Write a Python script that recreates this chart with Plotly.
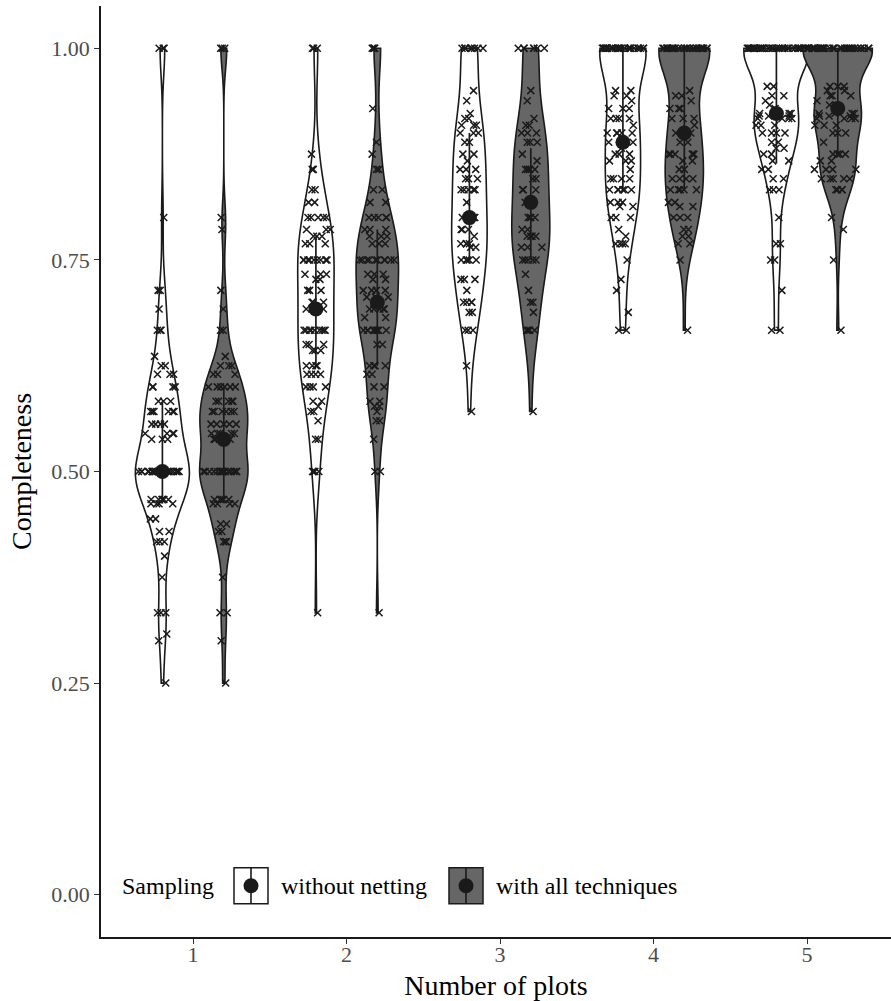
import numpy as np
import plotly.graph_objects as go

# ---- data: completeness values per number of plots, stored as (value, count) ----
plots = [1, 2, 3, 4, 5]
tick_labels = ["1", "2", "3", "4", "5"]
y_ticks = [0.0, 0.25, 0.5, 0.75, 1.0]
y_tick_labels = ["0.00", "0.25", "0.50", "0.75", "1.00"]

# without netting
wn1_vals = [1.0, 0.8, 0.714, 0.692, 0.667, 0.636, 0.625, 0.615, 0.6, 0.583, 0.571, 0.556, 0.545, 0.538,
            0.5, 0.467, 0.462, 0.444, 0.429, 0.417, 0.4, 0.375, 0.333, 0.308, 0.3, 0.25]
wn1_cnts = [3, 1, 2, 1, 3, 1, 2, 3, 4, 3, 6, 4, 4, 3, 25, 6, 4, 2, 2, 3, 1, 1, 3, 1, 1, 1]
wn2_vals = [1.0, 0.875, 0.857, 0.833, 0.818, 0.8, 0.786, 0.778, 0.769, 0.75, 0.733, 0.727, 0.714, 0.7,
            0.692, 0.667, 0.65, 0.643, 0.625, 0.615, 0.6, 0.583, 0.577, 0.571, 0.56, 0.538, 0.5, 0.333]
wn2_cnts = [3, 1, 2, 2, 2, 5, 3, 3, 3, 9, 3, 2, 3, 3, 4, 9, 3, 3, 4, 4, 4, 2, 1, 2, 1, 2, 4, 1]
wn3_vals = [1.0, 0.95, 0.938, 0.923, 0.917, 0.909, 0.9, 0.889, 0.875, 0.867, 0.857, 0.846, 0.833, 0.818,
            0.8, 0.786, 0.778, 0.769, 0.765, 0.75, 0.727, 0.714, 0.7, 0.688, 0.667, 0.625, 0.571]
wn3_cnts = [9, 1, 1, 1, 2, 3, 3, 2, 2, 1, 3, 3, 5, 1, 4, 3, 1, 4, 2, 5, 3, 1, 4, 2, 3, 1, 1]
wn4_vals = [1.0, 0.95, 0.944, 0.938, 0.929, 0.917, 0.909, 0.9, 0.889, 0.882, 0.875, 0.867, 0.857, 0.846,
            0.833, 0.818, 0.813, 0.8, 0.786, 0.778, 0.769, 0.75, 0.727, 0.714, 0.688, 0.667]
wn4_cnts = [30, 2, 2, 1, 3, 4, 1, 5, 2, 1, 3, 3, 1, 4, 6, 3, 2, 3, 1, 1, 4, 1, 1, 1, 1, 2]
wn5_vals = [1.0, 0.955, 0.944, 0.938, 0.933, 0.929, 0.923, 0.92, 0.917, 0.909, 0.9, 0.889, 0.882, 0.875,
            0.867, 0.857, 0.846, 0.833, 0.8, 0.769, 0.75, 0.714, 0.667]
wn5_cnts = [38, 2, 2, 1, 1, 1, 4, 3, 4, 3, 4, 2, 2, 2, 2, 2, 2, 3, 1, 2, 2, 1, 2]

# with all techniques
wa1_vals = [1.0, 0.8, 0.786, 0.714, 0.692, 0.667, 0.636, 0.625, 0.615, 0.6, 0.583, 0.571, 0.556, 0.545,
            0.538, 0.5, 0.467, 0.462, 0.438, 0.429, 0.417, 0.375, 0.333, 0.3, 0.25]
wa1_cnts = [3, 1, 1, 1, 1, 2, 1, 3, 3, 6, 5, 6, 5, 5, 5, 18, 5, 4, 2, 2, 3, 1, 2, 1, 1]
wa2_vals = [1.0, 0.929, 0.889, 0.875, 0.857, 0.833, 0.818, 0.8, 0.786, 0.778, 0.769, 0.75, 0.733, 0.727,
            0.714, 0.706, 0.692, 0.682, 0.667, 0.65, 0.625, 0.615, 0.6, 0.583, 0.577, 0.571, 0.56,
            0.538, 0.5, 0.333]
wa2_cnts = [4, 1, 1, 1, 2, 2, 2, 5, 3, 3, 3, 10, 3, 2, 4, 3, 5, 2, 9, 2, 4, 2, 2, 2, 2, 1, 2, 1, 2, 1]
wa3_vals = [1.0, 0.95, 0.938, 0.917, 0.909, 0.9, 0.889, 0.875, 0.867, 0.857, 0.846, 0.833, 0.818, 0.8,
            0.786, 0.778, 0.765, 0.75, 0.733, 0.714, 0.7, 0.688, 0.667, 0.571]
wa3_cnts = [7, 1, 1, 1, 2, 3, 3, 1, 1, 4, 2, 3, 1, 4, 2, 4, 3, 5, 1, 1, 2, 1, 4, 1]
wa4_vals = [1.0, 0.95, 0.944, 0.938, 0.929, 0.917, 0.909, 0.9, 0.889, 0.875, 0.867, 0.857, 0.846, 0.833,
            0.818, 0.813, 0.8, 0.786, 0.778, 0.769, 0.75, 0.667]
wa4_cnts = [28, 1, 2, 1, 3, 3, 1, 3, 2, 5, 2, 2, 4, 5, 2, 2, 3, 2, 2, 2, 1, 1]
wa5_vals = [1.0, 0.955, 0.95, 0.944, 0.938, 0.933, 0.923, 0.92, 0.917, 0.909, 0.9, 0.889, 0.875, 0.867,
            0.857, 0.846, 0.833, 0.8, 0.786, 0.75, 0.667]
wa5_cnts = [35, 3, 2, 3, 1, 2, 4, 3, 4, 3, 3, 1, 4, 2, 4, 5, 4, 1, 1, 1, 1]

# summary bars: centre point with lower / upper limits
without_mid = [0.5, 0.692, 0.8, 0.889, 0.923]
without_lo = [0.462, 0.625, 0.75, 0.833, 0.864]
without_hi = [0.583, 0.778, 0.9, 1.0, 1.0]
with_mid = [0.538, 0.7, 0.818, 0.9, 0.929]
with_lo = [0.467, 0.625, 0.75, 0.833, 0.875]
with_hi = [0.6, 0.786, 0.882, 1.0, 1.0]

groups = [
    dict(name="without netting", fill="#ffffff", dodge=-0.2,
         vals=[wn1_vals, wn2_vals, wn3_vals, wn4_vals, wn5_vals],
         cnts=[wn1_cnts, wn2_cnts, wn3_cnts, wn4_cnts, wn5_cnts],
         mid=without_mid, lo=without_lo, hi=without_hi),
    dict(name="with all techniques", fill="#666666", dodge=0.2,
         vals=[wa1_vals, wa2_vals, wa3_vals, wa4_vals, wa5_vals],
         cnts=[wa1_cnts, wa2_cnts, wa3_cnts, wa4_cnts, wa5_cnts],
         mid=with_mid, lo=with_lo, hi=with_hi),
]

INK = "#1a1a1a"
SERIF = "Liberation Serif, Times New Roman, serif"
VIOLIN_WIDTH = 0.45   # width of the fattest violin, in x units


def bw_nrd0(x):
    """Silverman's rule of thumb as used by R's bw.nrd0."""
    x = np.asarray(x, dtype=float)
    hi = np.std(x, ddof=1)
    q1, q3 = np.percentile(x, [25, 75])
    lo = min(hi, (q3 - q1) / 1.34)
    if lo == 0:
        lo = hi if hi > 0 else (abs(x[0]) if x[0] != 0 else 1.0)
    return 0.9 * lo * len(x) ** (-0.2)


def kde_peak(x, bw):
    """Highest Gaussian-kernel density inside the data range."""
    grid = np.linspace(x.min(), x.max(), 600)
    z = (grid[:, None] - x[None, :]) / bw
    dens = np.exp(-0.5 * z ** 2).sum(axis=1) / (len(x) * bw * np.sqrt(2 * np.pi))
    return dens.max()


# expand samples, bandwidths and density peaks (violins share one area scale)
for g in groups:
    g["samples"] = [np.repeat(v, c).astype(float) for v, c in zip(g["vals"], g["cnts"])]
    g["bw"] = [bw_nrd0(s) for s in g["samples"]]
    g["peak"] = [kde_peak(s, b) for s, b in zip(g["samples"], g["bw"])]
global_peak = max(max(g["peak"]) for g in groups)

fig = go.Figure()

for g in groups:
    for p, y, bw, pk in zip(plots, g["samples"], g["bw"], g["peak"]):
        fig.add_trace(go.Violin(
            y=y, x0=p + g["dodge"], name=g["name"], showlegend=False,
            width=VIOLIN_WIDTH * pk / global_peak, spanmode="hard", bandwidth=bw,
            fillcolor=g["fill"], line=dict(color=INK, width=1.6),
            points="all", pointpos=0, jitter=0.9,
            marker=dict(symbol="x-thin", size=7, color=INK,
                        line=dict(width=1.5, color=INK)),
            box_visible=False, meanline_visible=False, hoverinfo="y",
        ))

for g in groups:
    xs = [p + g["dodge"] for p in plots]
    fig.add_trace(go.Scatter(
        x=xs, y=g["mid"], mode="markers", showlegend=False, name=g["name"],
        marker=dict(size=15, color=INK),
        error_y=dict(type="data", symmetric=False,
                     array=[h - m for h, m in zip(g["hi"], g["mid"])],
                     arrayminus=[m - l for m, l in zip(g["mid"], g["lo"])],
                     color=INK, thickness=1.7, width=0),
    ))

# ---- layout geometry (pixels) ----
W, H = 891, 1001
L, R, T, B = 101, 891, 5.65, 937.35


def px_x(px):
    return (px - L) / (R - L)


def px_y(py):
    return (B - py) / (B - T)


# legend drawn inside the panel, bottom-left
shapes = []
annotations = []
ky0, ky1 = 868, 904
kc = (ky0 + ky1) / 2
annotations.append(dict(text="Sampling", x=px_x(120), y=px_y(kc), xref="paper", yref="paper",
                        xanchor="left", yanchor="middle", showarrow=False,
                        font=dict(family=SERIF, size=24, color="#000000")))
for (bx0, bx1, tx), g in zip([(234, 268, 279), (449, 483, 494)], groups):
    shapes.append(dict(type="rect", xref="paper", yref="paper",
                       x0=px_x(bx0), x1=px_x(bx1), y0=px_y(ky1), y1=px_y(ky0),
                       fillcolor=g["fill"], line=dict(color=INK, width=1.5)))
    cx = (bx0 + bx1) / 2
    shapes.append(dict(type="line", xref="paper", yref="paper",
                       x0=px_x(cx), x1=px_x(cx), y0=px_y(ky1), y1=px_y(ky0),
                       line=dict(color=INK, width=1.6)))
    shapes.append(dict(type="circle", xref="paper", yref="paper",
                       x0=px_x(cx - 7.5), x1=px_x(cx + 7.5), y0=px_y(kc + 7.5), y1=px_y(kc - 7.5),
                       fillcolor=INK, line=dict(color=INK, width=0)))
    annotations.append(dict(text=g["name"], x=px_x(tx), y=px_y(kc), xref="paper", yref="paper",
                            xanchor="left", yanchor="middle", showarrow=False,
                            font=dict(family=SERIF, size=24, color="#000000")))

axis_common = dict(showgrid=False, zeroline=False, showline=True, linecolor=INK, linewidth=1.5,
                   ticks="outside", ticklen=5, tickwidth=1.3, tickcolor="#333333",
                   tickfont=dict(family=SERIF, size=22, color="#4d4d4d"))

fig.update_layout(
    width=W, height=H,
    margin=dict(l=L, r=W - R, t=T, b=H - B, pad=0),
    paper_bgcolor="white", plot_bgcolor="white",
    violinmode="overlay",
    shapes=shapes, annotations=annotations,
    xaxis=dict(range=[0.4, 0.4 + (R - L) / 153.5], tickvals=plots, ticktext=tick_labels,
               ticklabelstandoff=-8,
               title=dict(text="Number of plots", font=dict(family=SERIF, size=28, color="#000000"),
                          standoff=12),
               **axis_common),
    yaxis=dict(range=[-0.05, 1.05], tickvals=y_ticks, ticktext=y_tick_labels,
               title=dict(text="Completeness", font=dict(family=SERIF, size=28, color="#000000"),
                          standoff=12),
               **axis_common),
)

fig.write_html("out.html")
